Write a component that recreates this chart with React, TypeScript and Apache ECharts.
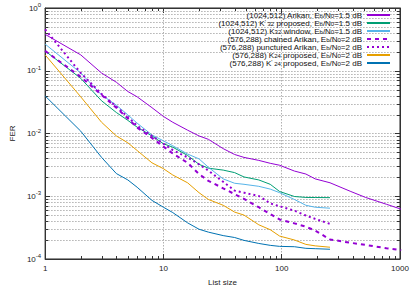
import React, { useEffect, useRef } from "react";
import * as echarts from "echarts";

const listSizes = [1, 2, 3, 4, 5, 6, 8, 10, 12, 16, 20, 24, 32, 40, 48, 64, 80, 96, 128, 160, 192, 256];
const listSizesLong = [1, 2, 3, 4, 5, 6, 8, 10, 12, 16, 20, 24, 32, 40, 48, 64, 80, 96, 128, 160, 192, 256, 384, 512, 768, 1024];

const arikan1024 = [0.38, 0.179, 0.092, 0.0656, 0.0467, 0.0384, 0.0258, 0.0187, 0.0151, 0.0113, 0.00914, 0.00807, 0.00574, 0.00463, 0.00416, 0.00373, 0.00335, 0.00312, 0.00252, 0.00226, 0.00189, 0.00164, 0.00119, 0.000957, 0.000745, 0.000622];
const k32Proposed = [0.207, 0.0757, 0.0332, 0.0216, 0.0162, 0.0126, 0.00914, 0.00687, 0.00605, 0.00447, 0.00323, 0.0028, 0.00261, 0.00238, 0.00203, 0.00182, 0.00155, 0.00119, 0.000991, 0.000957, 0.000955, 0.00095];
const k32Window = [0.266, 0.0923, 0.0412, 0.0283, 0.0198, 0.0146, 0.00948, 0.00764, 0.00638, 0.00471, 0.00394, 0.0029, 0.00189, 0.00161, 0.00155, 0.00144, 0.0013, 0.00114, 0.000889, 0.000718, 0.000668, 0.000645];
const chained576 = [0.207, 0.0799, 0.0412, 0.0258, 0.0174, 0.0124, 0.00851, 0.00617, 0.0048, 0.00341, 0.00226, 0.00176, 0.00134, 0.00108, 0.000906, 0.000668, 0.00052, 0.000427, 0.00037, 0.000327, 0.000283, 0.000205, 0.000181, 0.000168, 0.000148, 0.000138];
const punctured576 = [0.455, 0.0923, 0.0427, 0.0268, 0.0184, 0.0133, 0.00914, 0.00687, 0.00544, 0.00416, 0.00323, 0.00256, 0.0017, 0.00123, 0.00114, 0.00101, 0.000771, 0.000692, 0.000589, 0.000493, 0.000435, 0.000363];
const k24Proposed = [0.179, 0.0384, 0.0151, 0.00914, 0.00711, 0.00535, 0.00341, 0.00275, 0.00218, 0.00164, 0.00114, 0.000889, 0.000718, 0.000559, 0.000501, 0.000351, 0.000293, 0.000232, 0.000201, 0.000171, 0.000162, 0.000154];
const k24Proposed2 = [0.0397, 0.0109, 0.00416, 0.0023, 0.00182, 0.00139, 0.000859, 0.000668, 0.000549, 0.000377, 0.000298, 0.000268, 0.000236, 0.00022, 0.000198, 0.000177, 0.000165, 0.000159, 0.000157, 0.000148, 0.000146, 0.000143];

const seriesNames = [
  "(1024,512) Arikan, Eb/N0=1.5 dB",
  "(1024,512) K'32 proposed, Eb/N0=1.5 dB",
  "(1024,512) K32 window, Eb/N0=1.5 dB",
  "(576,288) chained Arikan, Eb/N0=2 dB",
  "(576,288) punctured Arikan, Eb/N0=2 dB",
  "(576,288) K24 proposed, Eb/N0=2 dB",
  "(576,288) K'24 proposed, Eb/N0=2 dB",
];
const legendLabels = [
  "(1024,512) Arikan, E{s|b}/N{s|0}=1.5 dB",
  "(1024,512) K{p|'}{s| 32} proposed, E{s|b}/N{s|0}=1.5 dB",
  "(1024,512) K{s|32} window, E{s|b}/N{s|0}=1.5 dB",
  "(576,288) chained Arikan, E{s|b}/N{s|0}=2 dB",
  "(576,288) punctured Arikan, E{s|b}/N{s|0}=2 dB",
  "(576,288) K{s|24} proposed, E{s|b}/N{s|0}=2 dB",
  "(576,288) K{p|'}{s| 24} proposed, E{s|b}/N{s|0}=2 dB",
];

const xMinorTicks = [2, 3, 4, 5, 6, 7, 8, 9, 20, 30, 40, 50, 60, 70, 80, 90, 200, 300, 400, 500, 600, 700, 800, 900];
const yMinorTicks = [
  0.0002, 0.0003, 0.0004, 0.0005, 0.0006, 0.0007, 0.0008, 0.0009,
  0.002, 0.003, 0.004, 0.005, 0.006, 0.007, 0.008, 0.009,
  0.02, 0.03, 0.04, 0.05, 0.06, 0.07, 0.08, 0.09,
  0.2, 0.3, 0.4, 0.5, 0.6, 0.7, 0.8, 0.9,
];

const FONT = "'Liberation Sans', Arial, sans-serif";
const AXIS = "#333333";
const GRID = "#b0b0b0";

function pairs(xs: number[], ys: number[]) {
  return ys.map((y, i) => [xs[i], y]);
}

export default function App() {
  const ref = useRef<HTMLDivElement>(null);
  useEffect(() => {
    document.body.style.margin = "0";
    const chart = echarts.init(ref.current!, undefined, { renderer: "svg" });
    const lineSeries = (name: string, data: number[][], color: string, width: number, type: any) => ({
      name,
      type: "line",
      data,
      symbol: "none",
      showSymbol: false,
      z: 3,
      lineStyle: { color, width, type },
      itemStyle: { color: "rgba(0,0,0,0)", borderWidth: 0, opacity: 0 },
      emphasis: { disabled: true },
    });
    const crisp = (v: number) => Math.round(v) + 0.5;
    const option: any = {
      animation: false,
      backgroundColor: "#ffffff",
      textStyle: { fontFamily: FONT },
      grid: { left: 35, right: 15, top: 8, bottom: 26, show: true, borderColor: "#222", borderWidth: 1, containLabel: false },
      legend: {
        data: seriesNames,
        orient: "vertical",
        right: 24,
        top: 11,
        align: "right",
        itemWidth: 23,
        itemHeight: 8,
        itemGap: 0,
        padding: 0,
        selectedMode: false,
        itemStyle: { opacity: 0, borderWidth: 0 },
        formatter: (name: string) => legendLabels[seriesNames.indexOf(name)],
        textStyle: {
          fontFamily: FONT,
          fontSize: 8,
          lineHeight: 8,
          color: "#111",
          rich: {
            s: { fontSize: 6, lineHeight: 8, verticalAlign: "bottom", fontFamily: FONT, color: "#111" },
            p: { fontSize: 6, lineHeight: 8, verticalAlign: "top", fontFamily: FONT, color: "#111" },
          },
        },
      },
      xAxis: [
        {
          type: "log",
          logBase: 10,
          min: 1,
          max: 1000,
          position: "bottom",
          name: "List size",
          nameLocation: "middle",
          nameGap: 19,
          nameTextStyle: { fontFamily: FONT, fontSize: 8, color: "#222" },
          axisLine: { show: true, lineStyle: { color: AXIS, width: 1 } },
          axisTick: { show: true, inside: true, length: 5, lineStyle: { color: AXIS } },
          axisLabel: { fontSize: 8, color: "#222", margin: 5, fontFamily: FONT, formatter: (v: number) => String(Math.round(v)) },
          splitLine: { show: true, lineStyle: { color: GRID, width: 1, type: [1.5, 1.5] } },
        },
        {
          type: "log",
          logBase: 10,
          min: 1,
          max: 1000,
          position: "top",
          axisLine: { show: true, lineStyle: { color: AXIS, width: 1 } },
          axisTick: { show: true, inside: true, length: 5, lineStyle: { color: AXIS } },
          axisLabel: { show: false },
          splitLine: { show: false },
        },
      ],
      yAxis: [
        {
          type: "log",
          logBase: 10,
          min: 0.0001,
          max: 1,
          position: "left",
          name: "FER",
          nameLocation: "middle",
          nameGap: 24,
          nameTextStyle: { fontFamily: FONT, fontSize: 8, color: "#222" },
          axisLine: { show: true, lineStyle: { color: AXIS, width: 1 } },
          axisTick: { show: true, inside: true, length: 5, lineStyle: { color: AXIS } },
          axisLabel: {
            fontSize: 8,
            lineHeight: 12,
            color: "#222",
            margin: 4,
            fontFamily: FONT,
            formatter: (v: number) => "10{sup|" + Math.round(Math.log10(v)) + "}",
            rich: { sup: { fontSize: 6, lineHeight: 12, verticalAlign: "top", color: "#222", fontFamily: FONT } },
          },
          splitLine: { show: true, lineStyle: { color: GRID, width: 1, type: [1.5, 1.5] } },
        },
        {
          type: "log",
          logBase: 10,
          min: 0.0001,
          max: 1,
          position: "right",
          axisLine: { show: true, lineStyle: { color: AXIS, width: 1 } },
          axisTick: { show: true, inside: true, length: 5, lineStyle: { color: AXIS } },
          axisLabel: { show: false },
          splitLine: { show: false },
        },
      ],
      series: [
        {
          type: "custom",
          coordinateSystem: "cartesian2d",
          silent: true,
          z: 1,
          data: yMinorTicks.map((v) => [1, v]),
          renderItem: (params: any, api: any) => {
            const v = api.value(1);
            const a = api.coord([1, v]);
            const b = api.coord([1000, v]);
            const y = crisp(a[1]);
            return {
              type: "group",
              children: [
                { type: "line", shape: { x1: a[0], y1: y, x2: b[0], y2: y }, style: { stroke: GRID, lineWidth: 1, lineDash: [1.5, 1.5] } },
                { type: "line", shape: { x1: a[0], y1: y, x2: a[0] + 3, y2: y }, style: { stroke: AXIS, lineWidth: 1 } },
                { type: "line", shape: { x1: b[0] - 3, y1: y, x2: b[0], y2: y }, style: { stroke: AXIS, lineWidth: 1 } },
              ],
            };
          },
        },
        {
          type: "custom",
          coordinateSystem: "cartesian2d",
          silent: true,
          z: 1,
          data: xMinorTicks.map((v) => [v, 0.0001]),
          renderItem: (params: any, api: any) => {
            const v = api.value(0);
            const a = api.coord([v, 0.0001]);
            const b = api.coord([v, 1]);
            const x = crisp(a[0]);
            return {
              type: "group",
              children: [
                { type: "line", shape: { x1: x, y1: a[1], x2: x, y2: a[1] - 3 }, style: { stroke: AXIS, lineWidth: 1 } },
                { type: "line", shape: { x1: x, y1: b[1], x2: x, y2: b[1] + 3 }, style: { stroke: AXIS, lineWidth: 1 } },
              ],
            };
          },
        },
        lineSeries(seriesNames[0], pairs(listSizesLong, arikan1024), "#9400d3", 1, "solid"),
        lineSeries(seriesNames[1], pairs(listSizes, k32Proposed), "#009e73", 1, "solid"),
        lineSeries(seriesNames[2], pairs(listSizes, k32Window), "#56b4e9", 1, "solid"),
        lineSeries(seriesNames[3], pairs(listSizesLong, chained576), "#9400d3", 2, [4, 4]),
        lineSeries(seriesNames[4], pairs(listSizes, punctured576), "#9400d3", 2, [2, 3]),
        lineSeries(seriesNames[5], pairs(listSizes, k24Proposed), "#e69f00", 1, "solid"),
        lineSeries(seriesNames[6], pairs(listSizes, k24Proposed2), "#0072b2", 1, "solid"),
      ],
    };
    chart.setOption(option);
    return () => chart.dispose();
  }, []);
  return <div ref={ref} style={{ position: "fixed", left: 0, top: 0, width: 415, height: 291, background: "#fff" }} />;
}
